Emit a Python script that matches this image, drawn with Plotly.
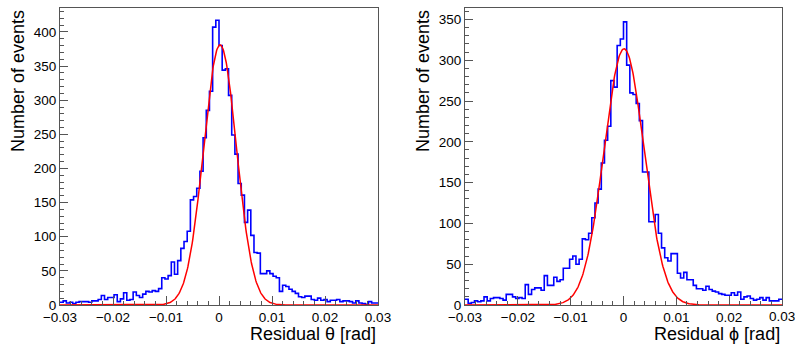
import numpy as np
import plotly.graph_objects as go

# ---------------- data ----------------
X_MIN, X_MAX, N_BINS = -0.03, 0.03, 100

theta_counts = [4, 6, 3, 4, 2, 4, 5, 5, 5, 4, 6, 6, 8, 14, 8, 11, 11, 15, 5, 9,
                18, 7, 8, 19, 14, 11, 16, 20, 19, 21, 20, 24,
                40, 38, 43, 63, 45, 65, 83, 93, 108, 154, 159, 171, 196, 245, 285, 313, 407, 417,
                380, 344, 346, 307, 249, 221, 178, 161, 121, 139, 102, 77, 76, 46, 46, 50, 46, 42, 40, 20,
                29, 27, 23, 20, 17, 12, 11, 13, 13, 8, 7, 10, 7, 8, 5, 7, 7, 8, 5, 6,
                6, 5, 3, 6, 3, 2, 1, 5, 3, 3]

phi_counts = [7, 2, 3, 5, 4, 5, 10, 5, 8, 9, 9, 8, 6, 13, 13, 10, 8, 9, 8, 25,
              13, 19, 21, 21, 18, 36, 24, 24, 34, 29, 31, 45, 45, 56,
              60, 50, 56, 81, 80, 88, 107, 125, 142, 174, 202, 219, 275, 267, 318, 326, 347,
              294, 260, 258, 247, 226, 163, 163, 102, 102, 111, 88, 70, 58, 54, 63, 63, 39, 33, 40,
              31, 31, 24, 20, 20, 18, 23, 19, 17, 16, 14, 13, 12, 12, 15, 12, 16, 7, 10, 11,
              8, 6, 7, 9, 6, 9, 5, 5, 5, 7]

# Gaussian fit parameters (amplitude, mean, sigma)
theta_fit = (381.0, 0.0002, 0.00310)
phi_fit = (314.0, 0.0001, 0.00378)

x_tickvals = [-0.03, -0.02, -0.01, 0.0, 0.01, 0.02, 0.03]
x_ticktext = ["\u22120.03", "\u22120.02", "\u22120.01", "0", "0.01", "0.02", "0.03"]
theta_yticks = [0, 50, 100, 150, 200, 250, 300, 350, 400]
phi_yticks = [0, 50, 100, 150, 200, 250, 300, 350]

theta_xtitle = "Residual \u03b8 [rad]"
phi_xtitle = "Residual \u03d5 [rad]"
ytitle = "Number of events"

# ---------------- figure ----------------
W, H = 795, 349
FONT = "Liberation Sans, Arial, Helvetica, sans-serif"
edges = np.linspace(X_MIN, X_MAX, N_BINS + 1)
xf = np.linspace(X_MIN, X_MAX, 600)

fig = go.Figure()


def add_panel(counts, fit, xa, ya):
    fig.add_trace(go.Scatter(
        x=edges, y=list(counts) + [counts[-1]], mode="lines", line_shape="hv",
        line=dict(color="#0000ff", width=1.6), xaxis=xa, yaxis=ya,
        showlegend=False, hoverinfo="skip"))
    a, m, s = fit
    fig.add_trace(go.Scatter(
        x=xf, y=a * np.exp(-0.5 * ((xf - m) / s) ** 2), mode="lines",
        line=dict(color="#ff0000", width=1.5), xaxis=xa, yaxis=ya,
        showlegend=False, hoverinfo="skip"))


add_panel(theta_counts, theta_fit, "x", "y")
add_panel(phi_counts, phi_fit, "x2", "y2")

frame_col = "#555555"
tickfont = dict(family=FONT, size=13.5, color="#000000")
common_x = dict(range=[X_MIN, X_MAX], showline=True, linecolor=frame_col, linewidth=1,
                mirror=True, ticks="inside", ticklen=9, tickwidth=1, tickcolor=frame_col,
                tickvals=x_tickvals, showgrid=False, zeroline=False,
                automargin=False, ticklabeloverflow="allow", tickfont=tickfont,
                minor=dict(ticks="inside", dtick=0.002, tick0=0, ticklen=4.5,
                           tickcolor=frame_col, showgrid=False))
common_y = dict(showline=True, linecolor=frame_col, linewidth=1, mirror=True,
                ticks="inside", ticklen=8, tickwidth=1, tickcolor=frame_col,
                showgrid=False, zeroline=False, automargin=False,
                ticklabeloverflow="allow", tickfont=tickfont,
                minor=dict(ticks="inside", dtick=10, tick0=0, ticklen=4,
                           tickcolor=frame_col, showgrid=False))

# the right panel's last x label sits at the page edge; draw it as an annotation
right_ticktext = x_ticktext[:-1] + [""]

ybot, ytop = (H - 305) / H, (H - 8) / H
fig.update_layout(
    width=W, height=H, margin=dict(l=0, r=0, t=0, b=0, autoexpand=False),
    paper_bgcolor="white", plot_bgcolor="white",
    xaxis=dict(domain=[60 / W, 378 / W], anchor="y", ticktext=x_ticktext, **common_x),
    yaxis=dict(domain=[ybot, ytop], anchor="x", range=[0, 435],
               tickvals=theta_yticks, **common_y),
    xaxis2=dict(domain=[465 / W, 782 / W], anchor="y2", ticktext=right_ticktext, **common_x),
    yaxis2=dict(domain=[ybot, ytop], anchor="x2", range=[0, 364],
                tickvals=phi_yticks, **common_y),
    annotations=[
        dict(text=x_ticktext[-1], x=x_tickvals[-1], xref="x2", y=(H - 316) / H, yref="paper",
             xanchor="center", yanchor="middle", showarrow=False, font=tickfont),
        dict(text=theta_xtitle, x=378 / W, y=(H - 334) / H, xref="paper", yref="paper",
             xanchor="right", yanchor="middle", showarrow=False,
             font=dict(family=FONT, size=18, color="#000000")),
        dict(text=phi_xtitle, x=782 / W, y=(H - 334) / H, xref="paper", yref="paper",
             xanchor="right", yanchor="middle", showarrow=False,
             font=dict(family=FONT, size=18, color="#000000")),
        dict(text=ytitle, x=18 / W, y=ytop, xref="paper", yref="paper", textangle=-90,
             xanchor="center", yanchor="top", showarrow=False,
             font=dict(family=FONT, size=18, color="#000000")),
        dict(text=ytitle, x=423 / W, y=ytop, xref="paper", yref="paper", textangle=-90,
             xanchor="center", yanchor="top", showarrow=False,
             font=dict(family=FONT, size=18, color="#000000")),
    ],
)

fig.write_html(
    "out.html",
    config={"displayModeBar": False, "staticPlot": True},
    post_script="document.body.style.margin='0';document.body.style.padding='0';"
                "document.body.style.overflow='hidden';",
)
